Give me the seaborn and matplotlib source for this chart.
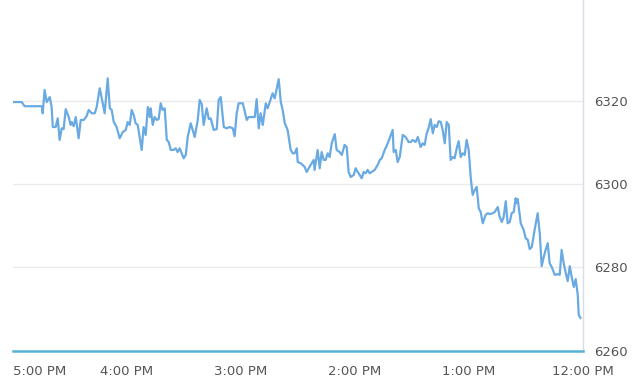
import matplotlib
matplotlib.use("Agg")
import matplotlib.pyplot as plt
import seaborn as sns
import pandas as pd

# minutes after 12:00 PM
minutes = [300.0, 295.3, 293.7, 284.7, 284.2, 283.2, 282.1, 280.5, 279.5, 278.9,
           277.4, 276.3, 275.3, 274.2, 273.2, 272.1, 270.5, 269.5, 268.9, 267.9,
           266.8, 265.3, 264.2, 262.6, 261.1, 260.0, 258.4, 256.8, 255.8, 254.2,
           252.6, 251.6, 250.0, 248.9, 247.9, 246.8, 245.3, 243.7, 242.1, 240.5,
           239.5, 238.4, 237.4, 236.3, 235.3, 234.2, 232.1, 231.1, 230.0, 228.9,
           227.9, 227.4, 226.3, 225.3, 224.2, 223.2, 222.1, 221.1, 220.0, 218.9,
           217.9, 216.8, 215.3, 214.2, 213.2, 212.1, 211.1, 210.0, 208.9, 207.9,
           206.3, 205.3, 204.2, 202.6, 201.6, 200.5, 199.5, 197.9, 196.8, 195.8,
           194.2, 192.6, 191.6, 190.5, 188.9, 187.4, 185.8, 184.2, 183.2, 182.1,
           181.1, 178.9, 176.8, 175.8, 174.2, 172.6, 171.6, 170.5, 169.5, 168.4,
           166.8, 165.8, 164.7, 163.2, 162.1, 160.0, 158.9, 157.9, 156.8, 155.3,
           153.7, 152.6, 151.6, 150.5, 150.0, 148.4, 147.4, 146.3, 145.3, 144.2,
           142.6, 141.6, 141.1, 139.5, 138.4, 137.4, 136.3, 135.3, 134.2, 133.2,
           132.1, 130.5, 129.5, 127.9, 126.8, 125.3, 124.2, 123.2, 122.1, 120.5,
           119.5, 118.4, 117.4, 116.3, 115.3, 114.2, 113.2, 112.1, 111.1, 109.5,
           107.9, 106.8, 105.8, 104.2, 102.6, 101.6, 100.0, 99.5, 98.4, 97.4,
           96.3, 94.7, 93.2, 91.6, 90.5, 89.5, 87.9, 86.8, 85.3, 84.2,
           83.2, 82.1, 81.1, 80.0, 78.9, 77.9, 76.8, 75.8, 74.7, 73.7,
           72.6, 71.6, 70.5, 69.5, 68.4, 67.4, 66.3, 65.3, 64.2, 63.2,
           62.1, 61.1, 60.0, 58.9, 57.9, 56.8, 55.8, 54.7, 53.7, 52.6,
           51.1, 50.0, 48.9, 47.4, 46.3, 44.7, 43.7, 42.6, 41.6, 40.5,
           39.5, 38.4, 37.4, 36.3, 35.3, 34.7, 34.2, 32.6, 31.1, 30.0,
           28.9, 27.9, 26.8, 25.3, 23.7, 22.6, 21.6, 20.5, 19.5, 18.4,
           17.4, 16.3, 14.7, 13.2, 12.1, 11.1, 10.0, 8.9, 7.9, 6.8,
           5.8, 4.7, 3.7, 2.6, 2.1, 1.1]

prices = [6319.7, 6319.7, 6318.7, 6318.7, 6317.0, 6322.6, 6319.7, 6320.9, 6318.5, 6313.7,
          6313.7, 6315.8, 6310.6, 6313.4, 6313.2, 6318.0, 6316.1, 6314.2, 6314.9, 6313.9,
          6316.1, 6311.0, 6315.4, 6315.4, 6316.3, 6317.8, 6317.0, 6317.0, 6318.5, 6323.0,
          6319.4, 6317.0, 6325.4, 6318.2, 6317.8, 6314.9, 6313.7, 6311.0, 6312.5, 6313.0,
          6314.9, 6314.2, 6317.8, 6316.6, 6314.6, 6314.2, 6308.2, 6313.7, 6311.8, 6318.5,
          6316.1, 6318.2, 6314.2, 6316.1, 6315.4, 6315.6, 6319.4, 6317.8, 6318.2, 6310.6,
          6310.1, 6308.2, 6308.2, 6308.6, 6307.7, 6308.6, 6307.4, 6306.2, 6307.0, 6311.3,
          6314.6, 6313.0, 6311.3, 6315.4, 6320.2, 6319.2, 6314.2, 6318.2, 6315.6, 6315.8,
          6313.0, 6313.2, 6320.2, 6320.9, 6313.7, 6313.4, 6313.7, 6313.4, 6311.5, 6317.0,
          6319.4, 6319.4, 6315.4, 6316.1, 6316.1, 6316.1, 6320.4, 6313.4, 6317.0, 6314.2,
          6319.4, 6318.2, 6319.7, 6321.8, 6320.6, 6325.2, 6319.7, 6317.8, 6314.6, 6313.0,
          6308.2, 6307.4, 6307.4, 6308.6, 6305.3, 6305.0, 6304.6, 6304.1, 6302.9, 6303.8,
          6305.0, 6305.8, 6303.4, 6308.2, 6303.8, 6307.7, 6305.8, 6305.8, 6307.4, 6306.5,
          6309.8, 6312.0, 6308.2, 6307.7, 6307.0, 6309.4, 6308.9, 6302.9, 6301.7, 6302.2,
          6303.8, 6302.9, 6302.2, 6301.4, 6302.9, 6302.6, 6303.4, 6302.6, 6302.9, 6303.4,
          6304.6, 6305.8, 6306.2, 6308.2, 6309.8, 6311.0, 6313.0, 6307.7, 6308.2, 6305.3,
          6306.5, 6311.8, 6311.3, 6310.1, 6310.1, 6310.6, 6310.1, 6311.3, 6308.9, 6309.8,
          6309.4, 6312.2, 6313.4, 6315.6, 6312.2, 6314.2, 6313.7, 6315.1, 6314.9, 6313.0,
          6309.8, 6314.9, 6314.2, 6305.8, 6306.5, 6306.2, 6308.6, 6310.3, 6306.5, 6307.4,
          6307.0, 6310.6, 6308.2, 6301.4, 6297.4, 6298.6, 6299.3, 6294.2, 6293.3, 6290.6,
          6292.6, 6293.0, 6292.8, 6293.0, 6293.3, 6294.5, 6292.1, 6290.9, 6292.1, 6295.9,
          6290.6, 6290.9, 6293.0, 6293.3, 6296.6, 6295.4, 6296.4, 6290.6, 6289.0, 6287.0,
          6286.6, 6284.4, 6284.9, 6289.0, 6293.0, 6288.2, 6280.3, 6282.5, 6284.2, 6285.8,
          6281.0, 6280.1, 6278.2, 6278.4, 6278.2, 6284.2, 6281.0, 6278.6, 6276.7, 6280.3,
          6277.7, 6275.3, 6277.2, 6273.4, 6268.6, 6267.8]

tick_minutes = [300, 240, 180, 120, 60, 0]
tick_labels = ["5:00 PM", "4:00 PM", "3:00 PM", "2:00 PM", "1:00 PM", "12:00 PM"]
y_ticks = [6260, 6280, 6300, 6320]

df = pd.DataFrame({"minutes": minutes, "price": prices})

sns.set_style("white")
plt.rcParams["font.family"] = ["DejaVu Sans"]

fig = plt.figure(figsize=(6.4, 3.85), dpi=100)
ax = fig.add_axes([12.7 / 640, 34.3 / 385, 570 / 640, 350.7 / 385])

sns.lineplot(data=df, x="minutes", y="price", ax=ax, color="#6aaae2",
             linewidth=1.6, sort=False, estimator=None)

ax.set_xlim(300, 0)
ax.set_ylim(6260, 6344.2)

for v in y_ticks[1:]:
    ax.axhline(v, color="#ebebeb", linewidth=1.0, zorder=0)

ax.set_xticks(tick_minutes)
ax.set_xticklabels(tick_labels)
ax.set_yticks(y_ticks)
ax.set_yticklabels([str(v) for v in y_ticks])
ax.yaxis.tick_right()

ax.tick_params(axis="x", length=6, width=0.8, color="#d5d5d5", direction="out",
               pad=4, labelsize=9.5, labelcolor="#555555")
ax.tick_params(axis="y", length=0, pad=8, labelsize=9.5, labelcolor="#555555")
ax.get_xticklabels()[0].set_horizontalalignment("left")

for side in ["left", "top"]:
    ax.spines[side].set_visible(False)
ax.spines["right"].set_color("#d6dde6")
ax.spines["right"].set_linewidth(1.0)
ax.spines["bottom"].set_color("#55b2d6")
ax.spines["bottom"].set_linewidth(1.8)

ax.set_xlabel("")
ax.set_ylabel("")

fig.savefig("out.png", dpi=100)
